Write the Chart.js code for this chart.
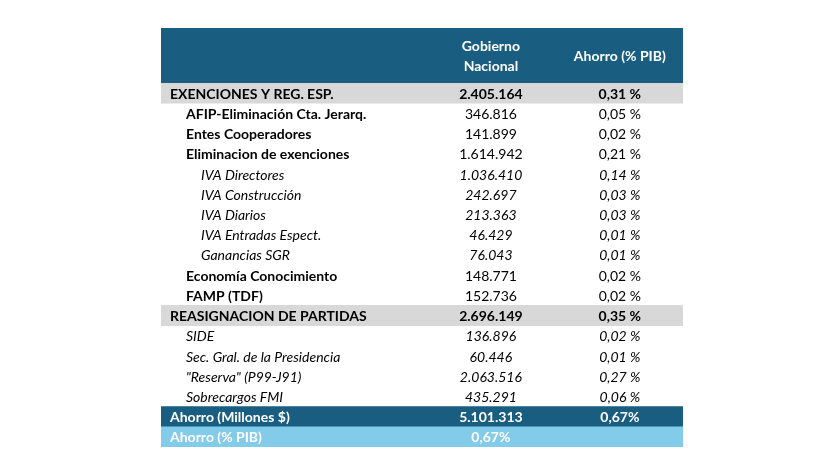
<!DOCTYPE html>
<html>
<head>
<meta charset="utf-8">
<script src="https://cdn.jsdelivr.net/npm/chart.js@4.4.1/dist/chart.umd.min.js"></script>
<style>
  html, body { margin: 0; background: #fff; }
  #wrap { width: 819px; height: 460px; }
</style>
</head>
<body>
<div id="wrap"><canvas id="tabla"></canvas></div>
<script>
// filas de la tabla
const filas = [
  'EXENCIONES Y REG. ESP.',
  'AFIP-Eliminación Cta. Jerarq.',
  'Entes Cooperadores',
  'Eliminacion de exenciones',
  'IVA Directores',
  'IVA Construcción',
  'IVA Diarios',
  'IVA Entradas Espect.',
  'Ganancias SGR',
  'Economía Conocimiento',
  'FAMP (TDF)',
  'REASIGNACION DE PARTIDAS',
  'SIDE',
  'Sec. Gral. de la Presidencia',
  '"Reserva" (P99-J91)',
  'Sobrecargos FMI',
  'Ahorro (Millones $)',
  'Ahorro (% PIB)'
];
const gobierno = [2405164, 346816, 141899, 1614942, 1036410, 242697, 213363, 46429, 76043,
  148771, 152736, 2696149, 136896, 60446, 2063516, 435291, 5101313, null];
const pib = [0.31, 0.05, 0.02, 0.21, 0.14, 0.03, 0.03, 0.01, 0.01,
  0.02, 0.02, 0.35, 0.02, 0.01, 0.27, 0.06, 0.67, 0.67];
const nivel = [0, 1, 1, 1, 2, 2, 2, 2, 2, 1, 1, 0, 1, 1, 1, 1, 0, 0];
const tipo = ['grupo', 'negrita', 'negrita', 'negrita', 'italica', 'italica', 'italica', 'italica', 'italica',
  'negrita', 'negrita', 'grupo', 'italica', 'italica', 'italica', 'italica', 'total', 'pib'];
const encabezados = [['Gobierno', 'Nacional'], ['Ahorro (% PIB)']];

const FUENTE = 'Lato, "Open Sans", sans-serif';
const fondos = { grupo: '#d8d8d8', total: '#195e80', pib: '#82cbe9' };

function miles(n) {
  return String(n).replace(/\B(?=(\d{3})+(?!\d))/g, '.');
}
function pct(v, espacio) {
  return v.toFixed(2).replace('.', ',') + (espacio ? ' %' : '%');
}

const textoTabla = {
  id: 'textoTabla',
  afterDatasetsDraw(chart) {
    const { ctx, chartArea, scales } = chart;
    const ancho = chartArea.right - chartArea.left;
    const col2 = chartArea.left + ancho * 0.632;
    const col3 = chartArea.left + ancho * 0.879;
    const sangria = [9, 25, 40];
    ctx.save();

    // encabezado
    ctx.fillStyle = '#195e80';
    ctx.fillRect(chartArea.left, chartArea.top - 55, ancho, 55);
    ctx.fillStyle = '#ffffff';
    ctx.font = 'bold 14px ' + FUENTE;
    ctx.textAlign = 'center';
    ctx.textBaseline = 'middle';
    ctx.fillText(encabezados[0][0], col2, chartArea.top - 37);
    ctx.fillText(encabezados[0][1], col2, chartArea.top - 17);
    ctx.fillText(encabezados[1][0], col3, chartArea.top - 27);

    filas.forEach((fila, i) => {
      const y = scales.y.getPixelForValue(i) + 1;
      const t = tipo[i];
      let fLabel, fValor, color = '#000000';
      if (t === 'grupo') { fLabel = 'bold 14px '; fValor = 'bold 14px '; }
      else if (t === 'negrita') { fLabel = 'bold 14px '; fValor = '14px '; }
      else if (t === 'italica') { fLabel = 'italic 14px '; fValor = 'italic 14px '; }
      else { fLabel = 'bold 14px '; fValor = 'bold 14px '; color = '#ffffff'; }

      ctx.fillStyle = color;
      ctx.font = fLabel + FUENTE;
      ctx.textAlign = 'left';
      ctx.fillText(fila, chartArea.left + sangria[nivel[i]], y);

      ctx.font = fValor + FUENTE;
      ctx.textAlign = 'center';
      if (t === 'pib') {
        ctx.fillText(pct(pib[i], false), col2, y);
      } else {
        ctx.fillText(miles(gobierno[i]), col2, y);
        ctx.fillText(pct(pib[i], t !== 'total'), col3, y);
      }
    });
    ctx.restore();
  }
};

new Chart(document.getElementById('tabla'), {
  type: 'bar',
  data: {
    labels: filas,
    datasets: [{
      data: filas.map(() => 1),
      backgroundColor: tipo.map(t => fondos[t] || 'rgba(0,0,0,0)'),
      barPercentage: 1,
      categoryPercentage: 1,
      borderWidth: 0
    }]
  },
  options: {
    indexAxis: 'y',
    responsive: true,
    maintainAspectRatio: false,
    animation: false,
    layout: {
      padding: { left: 161, right: 136, top: 83, bottom: 13 }
    },
    scales: {
      x: { display: false, min: 0, max: 1 },
      y: { display: false }
    },
    plugins: {
      legend: { display: false },
      tooltip: { enabled: false }
    }
  },
  plugins: [textoTabla]
});
</script>
</body>
</html>
